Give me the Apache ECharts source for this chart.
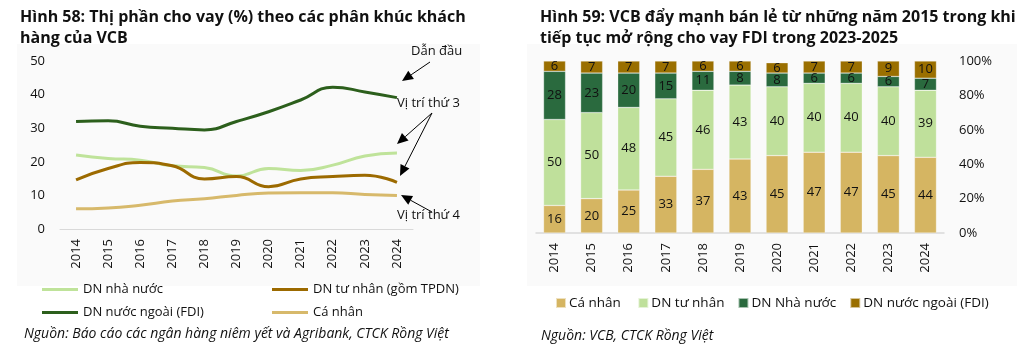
<!DOCTYPE html>
<html>
<head>
<meta charset="utf-8">
<script src="https://cdn.jsdelivr.net/npm/echarts@6/dist/echarts.min.js"></script>
<style>
  html, body { margin: 0; padding: 0; background: #fff; }
  #chartDiv { width: 1022px; height: 351px; }
</style>
</head>
<body>
<div id="chartDiv"></div>
<script>
// du lieu hinh 58 (thi phan cho vay, %)
var years = ['2014','2015','2016','2017','2018','2019','2020','2021','2022','2023','2024'];
var dnNhaNuoc = [22.0, 21.0, 20.5, 18.8, 18.3, 15.8, 18.0, 17.4, 19.0, 21.7, 22.6];
var dnTuNhan = [14.6, 18.0, 19.8, 18.8, 14.9, 15.6, 12.6, 14.9, 15.6, 16.0, 13.9];
var dnFDI = [32.0, 32.2, 30.6, 30.0, 29.5, 32.0, 34.9, 38.4, 42.2, 40.8, 39.1];
var caNhan = [6.0, 6.25, 7.1, 8.3, 9.0, 10.0, 10.7, 10.8, 10.8, 10.3, 10.0];

// du lieu hinh 59 (co cau cho vay VCB, %)
var barCaNhan = [16, 20, 25, 33, 37, 43, 45, 47, 47, 45, 44];
var barTuNhan = [50, 50, 48, 45, 46, 43, 40, 40, 40, 40, 39];
var barNhaNuoc = [28, 23, 20, 15, 11, 8, 8, 6, 6, 6, 7];
var barFDI = [6, 7, 7, 7, 6, 6, 6, 7, 7, 9, 10];

var font = 'Open Sans';
var myChart = echarts.init(document.getElementById('chartDiv'));

function arrow(x1, y1, x2, y2) {
    var a = Math.atan2(y2 - y1, x2 - x1);
    var len = 11, w = 5;
    var bx = x2 - len * Math.cos(a), by = y2 - len * Math.sin(a);
    return [{
        type: 'line',
        shape: { x1: x1, y1: y1, x2: bx, y2: by },
        style: { stroke: '#000', lineWidth: 1 }
    }, {
        type: 'polygon',
        shape: { points: [[x2, y2], [bx + w * Math.sin(a), by - w * Math.cos(a)], [bx - w * Math.sin(a), by + w * Math.cos(a)]] },
        style: { fill: '#000' }
    }];
}

var graphics = [
    { type: 'rect', z: -10, shape: { x: 17, y: 44, width: 463, height: 242 }, style: { fill: '#fafafa' } },
    { type: 'rect', z: -10, shape: { x: 527, y: 44, width: 490, height: 242 }, style: { fill: '#fafafa' } },
    { type: 'text', left: 411, top: 45, style: { text: 'Dẫn đầu', font: '13px ' + font, fill: '#111' } },
    { type: 'text', left: 397, top: 97, style: { text: 'Vị trí thứ 3', font: '13px ' + font, fill: '#111' } },
    { type: 'text', left: 397, top: 209, style: { text: 'Vị trí thứ 4', font: '13px ' + font, fill: '#111' } }
]
    .concat(arrow(430, 62, 402, 81))
    .concat(arrow(432, 113, 397, 144))
    .concat(arrow(432, 113, 400, 176))
    .concat(arrow(432, 212, 401, 195));

var lineBase = { type: 'line', smooth: true, symbol: 'none', lineStyle: { width: 3 }, xAxisIndex: 0, yAxisIndex: 0 };
var barBase = {
    type: 'bar', stack: 'vcb', barWidth: 22, xAxisIndex: 1, yAxisIndex: 1,
    itemStyle: { borderColor: 'rgba(255,255,255,0.6)', borderWidth: 0.5 },
    label: { show: true, position: 'inside', color: '#111', fontFamily: font, fontSize: 13 }
};

var option = {
    animation: false,
    textStyle: { fontFamily: font },
    title: [
        { text: 'Hình 58: Thị phần cho vay (%) theo các phân khúc khách\nhàng của VCB', left: 15, top: 2,
          textStyle: { fontSize: 16, fontWeight: 'bold', color: '#111', lineHeight: 21, fontFamily: font } },
        { text: 'Hình 59: VCB đẩy mạnh bán lẻ từ những năm 2015 trong khi\ntiếp tục mở rộng cho vay FDI trong 2023-2025', left: 535, top: 2,
          textStyle: { fontSize: 16, fontWeight: 'bold', color: '#111', lineHeight: 21, fontFamily: font } },
        { text: 'Nguồn: Báo cáo các ngân hàng niêm yết và Agribank, CTCK Rồng Việt', left: 19, top: 322,
          textStyle: { fontSize: 14, fontStyle: 'italic', fontWeight: 'normal', color: '#111', fontFamily: font } },
        { text: 'Nguồn: VCB, CTCK Rồng Việt', left: 536, top: 324,
          textStyle: { fontSize: 14, fontStyle: 'italic', fontWeight: 'normal', color: '#111', fontFamily: font } }
    ],
    legend: [
        { data: ['DN nhà nước', 'DN nước ngoài (FDI)'], orient: 'vertical', left: 37, top: 278,
          icon: 'rect', itemWidth: 36, itemHeight: 3, itemGap: 10,
          textStyle: { fontSize: 13, color: '#111', fontFamily: font } },
        { data: ['DN tư nhân (gồm TPDN)', 'Cá nhân'], orient: 'vertical', left: 267, top: 278,
          icon: 'rect', itemWidth: 36, itemHeight: 3, itemGap: 10,
          textStyle: { fontSize: 13, color: '#111', fontFamily: font } },
        { data: ['Cá nhân ', 'DN tư nhân', 'DN Nhà nước', 'DN nước ngoài (FDI) '], left: 550, top: 291,
          icon: 'rect', itemWidth: 10, itemHeight: 10, itemGap: 13,
          textStyle: { fontSize: 13.5, color: '#111', fontFamily: font, padding: [0, 0, 0, -2] } }
    ],
    grid: [
        { left: 60, right: 609, top: 61, bottom: 122 },
        { left: 536, right: 78, top: 61, bottom: 118 }
    ],
    xAxis: [
        { type: 'category', gridIndex: 0, data: years, boundaryGap: true,
          axisLine: { lineStyle: { color: '#d9d9d9', width: 1 } }, axisTick: { show: false },
          axisLabel: { rotate: 90, margin: 10, color: '#111', fontSize: 13, fontFamily: font } },
        { type: 'category', gridIndex: 1, data: years, boundaryGap: true,
          axisLine: { lineStyle: { color: '#d9d9d9', width: 1.5 } }, axisTick: { show: false },
          axisLabel: { rotate: 90, margin: 10, color: '#111', fontSize: 13, fontFamily: font } }
    ],
    yAxis: [
        { type: 'value', gridIndex: 0, min: 0, max: 50, interval: 10,
          axisLine: { show: false }, axisTick: { show: false }, splitLine: { show: false },
          axisLabel: { margin: 15, color: '#111', fontSize: 13, fontFamily: font } },
        { type: 'value', gridIndex: 1, position: 'right', min: 0, max: 100, interval: 20,
          axisLine: { show: false }, axisTick: { show: false }, splitLine: { show: false },
          axisLabel: { margin: 15, color: '#111', fontSize: 13, fontFamily: font, formatter: '{value}%' } }
    ],
    graphic: graphics,
    series: [
        Object.assign({}, lineBase, { name: 'DN nhà nước', data: dnNhaNuoc, color: '#bfe39a' }),
        Object.assign({}, lineBase, { name: 'DN tư nhân (gồm TPDN)', data: dnTuNhan, color: '#9c6a00' }),
        Object.assign({}, lineBase, { name: 'DN nước ngoài (FDI)', data: dnFDI, color: '#2c5f1c' }),
        Object.assign({}, lineBase, { name: 'Cá nhân', data: caNhan, color: '#d7b96b' }),
        Object.assign({}, barBase, { name: 'Cá nhân ', data: barCaNhan, color: '#d5b562' }),
        Object.assign({}, barBase, { name: 'DN tư nhân', data: barTuNhan, color: '#bfe09b' }),
        Object.assign({}, barBase, { name: 'DN Nhà nước', data: barNhaNuoc, color: '#2a6a3e' }),
        Object.assign({}, barBase, { name: 'DN nước ngoài (FDI) ', data: barFDI, color: '#9a6f00' })
    ]
};

myChart.setOption(option);
window.addEventListener('resize', function () {
    myChart.resize();
});
</script>
</body>
</html>
